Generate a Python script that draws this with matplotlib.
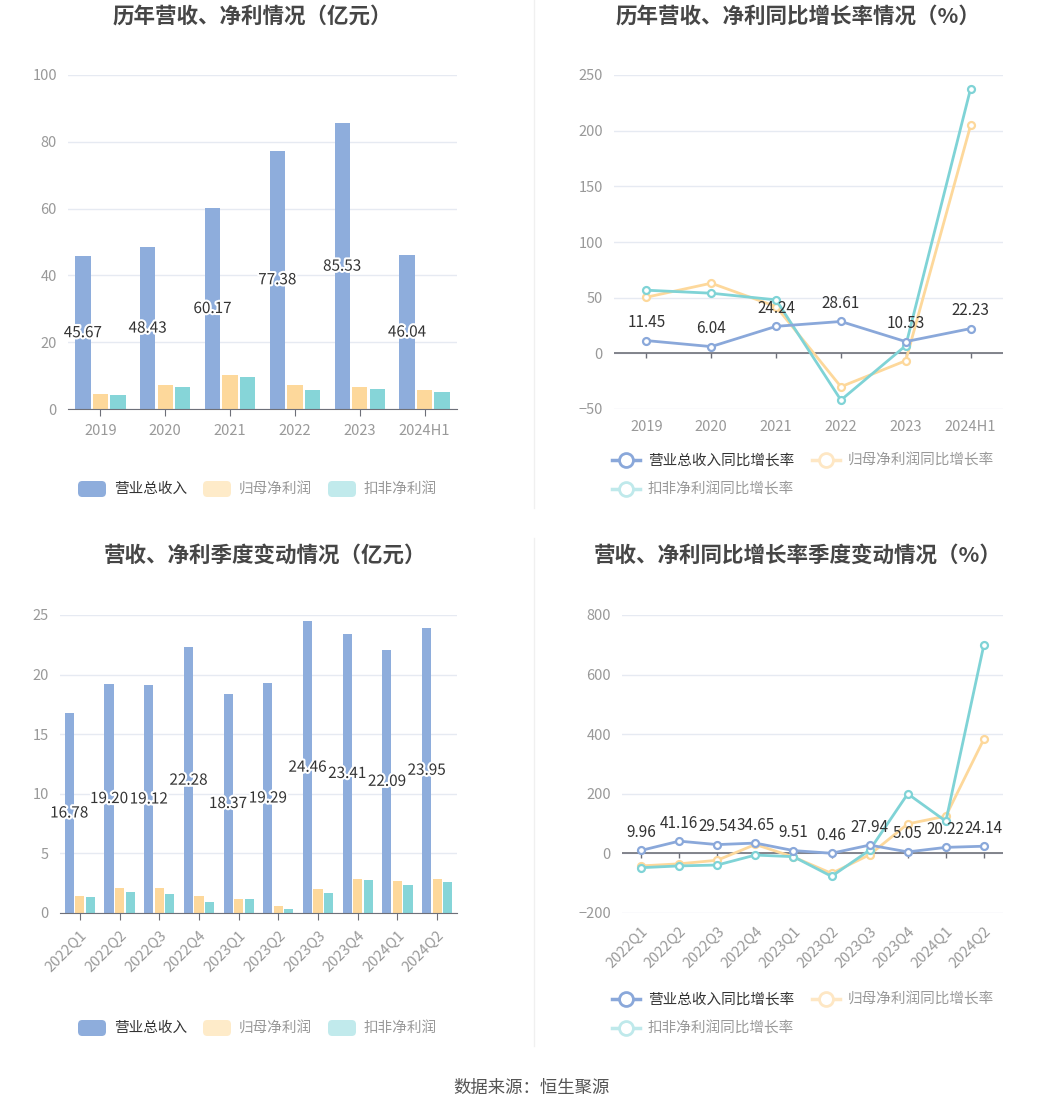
import numpy as np
import matplotlib.pyplot as plt
import matplotlib.patheffects as pe
from matplotlib.lines import Line2D
from matplotlib.patches import FancyBboxPatch

plt.rcParams['font.family'] = ['Noto Sans CJK SC', 'DejaVu Sans']

# annual data (亿元)
years = ['2019', '2020', '2021', '2022', '2023', '2024H1']
revenue = [45.67, 48.43, 60.17, 77.38, 85.53, 46.04]
net_profit = [4.5, 7.3, 10.3, 7.2, 6.7, 5.6]
deducted_profit = [4.3, 6.5, 9.7, 5.6, 6.0, 5.0]

# annual growth (%)
revenue_yoy = [11.45, 6.04, 24.24, 28.61, 10.53, 22.23]
net_profit_yoy = [50.4, 63.0, 42.0, -30.0, -6.6, 204.7]
deducted_yoy = [56.7, 54.0, 48.0, -42.0, 6.9, 237.7]

# quarterly data (亿元)
quarters = ['2022Q1', '2022Q2', '2022Q3', '2022Q4', '2023Q1',
            '2023Q2', '2023Q3', '2023Q4', '2024Q1', '2024Q2']
q_revenue = [16.78, 19.20, 19.12, 22.28, 18.37, 19.29, 24.46, 23.41, 22.09, 23.95]
q_net_profit = [1.46, 2.10, 2.13, 1.43, 1.20, 0.59, 1.99, 2.83, 2.69, 2.83]
q_deducted = [1.32, 1.74, 1.57, 0.92, 1.15, 0.31, 1.68, 2.80, 2.38, 2.60]

# quarterly growth (%)
q_revenue_yoy = [9.96, 41.16, 29.54, 34.65, 9.51, 0.46, 27.94, 5.05, 20.22, 24.14]
q_net_profit_yoy = [-42, -35, -23, 30, -12, -67, -4.5, 99, 125, 384]
q_deducted_yoy = [-48, -42, -39, -5.6, -11, -77, 11, 200, 108, 701]

BLUE = '#8eaddc'
ORANGE = '#fdd89b'
TEAL = '#86d5d8'
BLUE_L = '#8aa8da'
TEAL_L = '#7fd3d6'
GRID = '#e6eaf2'
TICK = '#999999'

W, H = 1062, 1113
fig = plt.figure(figsize=(W / 100, H / 100), dpi=100)


def box(left, right, top, bottom):
    return [left / W, 1 - bottom / H, (right - left) / W, (bottom - top) / H]


def style(ax, ylim, yticks, labels, rot=0):
    ax.set_ylim(*ylim)
    ax.set_xlim(-0.5, len(labels) - 0.5)
    ax.set_yticks(yticks)
    ax.grid(axis='y', color=GRID, lw=1)
    ax.set_axisbelow(True)
    for s in ['top', 'right', 'left']:
        ax.spines[s].set_visible(False)
    ax.tick_params(axis='y', length=0, labelsize=10.5, labelcolor=TICK, pad=8)
    ax.set_xticks(range(len(labels)))
    if rot:
        ax.set_xticklabels(labels, rotation=45, ha='right', rotation_mode='anchor')
    else:
        ax.set_xticklabels(labels)
    ax.tick_params(axis='x', labelsize=10.5, labelcolor=TICK, color='#6e7079',
                   length=5, pad=6)


def bars(ax, a, b, c, w, off):
    x = np.arange(len(a))
    ax.bar(x - off, a, w, color=BLUE)
    ax.bar(x, b, w, color=ORANGE)
    ax.bar(x + off, c, w, color=TEAL)
    ax.spines['bottom'].set_color('#6e7079')
    for xi, v in zip(x, a):
        ax.text(xi - off, v / 2, f'{v:.2f}', ha='center', va='center',
                fontsize=11, color='#333333',
                path_effects=[pe.withStroke(linewidth=3, foreground='white')])


def lines(ax, a, b, c, ylim, ax_h):
    x = np.arange(len(a))
    ax.spines['bottom'].set_visible(False)
    ax.tick_params(axis='x', length=0, pad=8)
    for vals, col in [(b, ORANGE), (c, TEAL_L), (a, BLUE_L)]:
        ax.plot(x, vals, color=col, lw=2, marker='o', ms=5, mfc='white',
                mec=col, mew=1.6, zorder=3)
    ax.axhline(0, color='#6e7079', lw=1.2, zorder=2)
    z = (0 - ylim[0]) / (ylim[1] - ylim[0])
    ax.vlines(x, z - 5 / ax_h, z, color='#6e7079', lw=1,
              transform=ax.get_xaxis_transform())
    for xi, v in zip(x, a):
        ax.annotate(f'{v:.2f}', (xi, v), xytext=(0, 13), textcoords='offset points',
                    ha='center', va='center', fontsize=11, color='#333333', zorder=4)


# top-left
ax1 = fig.add_axes(box(68, 457, 75, 409))
style(ax1, (0, 100), [0, 20, 40, 60, 80, 100], years)
bars(ax1, revenue, net_profit, deducted_profit, 0.235, 0.27)

# top-right
ax2 = fig.add_axes(box(614, 1003, 75, 409))
style(ax2, (-50, 250), [-50, 0, 50, 100, 150, 200, 250], years)
lines(ax2, revenue_yoy, net_profit_yoy, deducted_yoy, (-50, 250), 334)

# bottom-left
ax3 = fig.add_axes(box(60, 457, 615, 913))
style(ax3, (0, 25), [0, 5, 10, 15, 20, 25], quarters, rot=45)
bars(ax3, q_revenue, q_net_profit, q_deducted, 0.23, 0.265)

# bottom-right
ax4 = fig.add_axes(box(622, 1003, 615, 913))
style(ax4, (-200, 800), [-200, 0, 200, 400, 600, 800], quarters, rot=45)
lines(ax4, q_revenue_yoy, q_net_profit_yoy, q_deducted_yoy, (-200, 800), 298)

# titles
title_kw = dict(ha='center', va='center', fontsize=15.5, fontweight='bold', color='#464646')
fig.text(252 / W, 1 - 16 / H, '历年营收、净利情况（亿元）', **title_kw)
fig.text(798 / W, 1 - 16 / H, '历年营收、净利同比增长率情况（%）', **title_kw)
fig.text(265 / W, 1 - 555 / H, '营收、净利季度变动情况（亿元）', **title_kw)
fig.text(798 / W, 1 - 555 / H, '营收、净利同比增长率季度变动情况（%）', **title_kw)


# legends
def bar_legend(y):
    items = [('营业总收入', BLUE, '#333333', 78),
             ('归母净利润', '#feebc9', '#999999', 203),
             ('扣非净利润', '#c1eaec', '#999999', 328)]
    for name, col, tcol, x in items:
        fig.add_artist(FancyBboxPatch((x / W, 1 - (y + 8) / H), 28 / W, 16 / H,
                                      boxstyle='round,pad=0,rounding_size=0.004',
                                      transform=fig.transFigure, color=col, lw=0))
        fig.text((x + 36) / W, 1 - y / H, name, ha='left', va='center',
                 fontsize=10.5, color=tcol)


def line_legend(rows):
    for name, col, tcol, x, y in rows:
        yy = 1 - y / H
        fig.add_artist(Line2D([x / W, (x + 28) / W], [yy, yy], transform=fig.transFigure,
                              color=col, lw=2.5))
        fig.add_artist(Line2D([(x + 14) / W], [yy], transform=fig.transFigure,
                              marker='o', ms=10, mfc='white', mec=col, mew=2))
        fig.text((x + 36) / W, yy, name, ha='left', va='center',
                 fontsize=10.5, color=tcol)


bar_legend(489)
bar_legend(1028)
line_legend([('营业总收入同比增长率', BLUE_L, '#333333', 612, 460),
             ('归母净利润同比增长率', '#fee7c4', '#999999', 812, 460),
             ('扣非净利润同比增长率', '#bfe9eb', '#999999', 612, 489)])
line_legend([('营业总收入同比增长率', BLUE_L, '#333333', 612, 999),
             ('归母净利润同比增长率', '#fee7c4', '#999999', 812, 999),
             ('扣非净利润同比增长率', '#bfe9eb', '#999999', 612, 1028)])

# separators
fig.add_artist(Line2D([534 / W, 534 / W], [1 - 0 / H, 1 - 508 / H],
                      transform=fig.transFigure, color='#f0f0f0', lw=1))
fig.add_artist(Line2D([534 / W, 534 / W], [1 - 538 / H, 1 - 1046 / H],
                      transform=fig.transFigure, color='#f0f0f0', lw=1))

fig.text(531 / W, 1 - 1088 / H, '数据来源：恒生聚源', ha='center', va='center',
         fontsize=12.5, color='#555555')

fig.savefig('out.png', dpi=100)
